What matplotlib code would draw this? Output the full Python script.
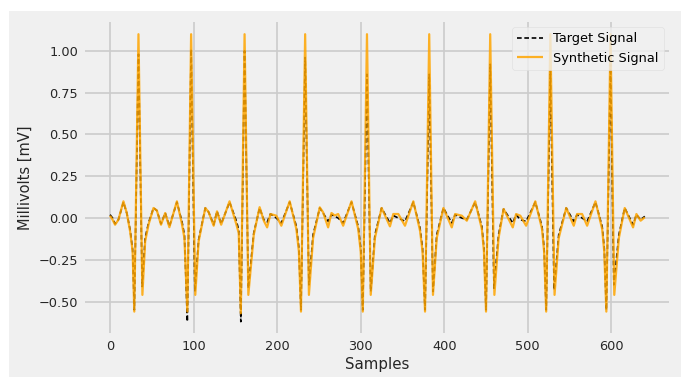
import matplotlib
matplotlib.use("Agg")
from matplotlib import pyplot as plt
from matplotlib.patches import Rectangle

# key points (sample index, millivolts)
target_x = [0, 3, 6, 10, 16, 20, 24, 27, 29, 34, 38.5, 42, 46, 52, 56, 61, 66, 71, 80, 86, 89,
            92.5, 97, 101.5, 106, 114, 118, 124, 128, 133, 143, 151, 154,
            156.5, 161, 165.5, 172, 179, 184, 188, 192, 196, 199, 205, 215, 223, 226,
            228.5, 233.5, 238, 243, 251, 255, 261, 265, 273, 279, 289, 297, 300,
            302.5, 307.5, 312, 317, 325, 335, 339, 345, 353, 363, 371, 374,
            377, 382, 386.5, 391, 399, 409, 413, 421, 427, 437, 445, 447.5,
            450, 455, 459.5, 465, 471, 482, 486, 491, 498, 509, 517, 519.5,
            522, 527, 531.5, 537, 546, 555, 559, 565, 571, 581, 589, 591.5,
            594, 599, 603, 609, 616, 626, 630, 635, 640]
target_y = [0.02, 0.0, -0.035, -0.01, 0.095, 0.03, -0.07, -0.19, -0.55, 0.98, -0.41, -0.12, -0.03, 0.06, 0.045, -0.035, 0.03, -0.05, 0.095, -0.02, -0.10,
            -0.62, 1.01, -0.44, -0.13, 0.06, 0.035, -0.04, 0.04, -0.035, 0.095, -0.015, -0.07,
            -0.62, 1.00, -0.42, -0.09, 0.06, -0.01, -0.025, 0.025, 0.01, 0.0, -0.03, 0.095, -0.05, -0.18,
            -0.55, 0.96, -0.40, -0.10, 0.06, 0.03, -0.02, 0.02, 0.0, -0.03, 0.095, -0.05, -0.18,
            -0.55, 0.86, -0.44, -0.10, 0.06, -0.03, 0.015, 0.0, -0.02, 0.095, -0.06, -0.18,
            -0.55, 0.86, -0.44, -0.10, 0.06, -0.03, 0.02, 0.0, -0.01, 0.095, -0.05, -0.18,
            -0.55, 0.92, -0.42, -0.10, 0.054, -0.03, 0.02, -0.01, -0.02, 0.095, -0.05, -0.18,
            -0.55, 0.88, -0.43, -0.10, 0.06, -0.02, 0.02, 0.0, -0.02, 0.095, -0.05, -0.18,
            -0.55, 0.92, -0.40, -0.10, 0.06, -0.04, 0.02, -0.01, 0.01]

synth_x = [0, 3, 6, 10, 16, 20, 24, 27, 29, 34, 38.7, 42, 46, 52, 56, 61, 66, 71, 80, 86, 89,
           92.5, 97, 102, 106, 114, 118, 124, 128, 133, 143, 151, 154,
           156.5, 161, 165.5, 172, 179, 184, 188, 192, 199, 205, 215, 223, 226,
           228.5, 233.5, 238, 243, 251, 255, 261, 265, 269, 273, 279, 289, 297, 300,
           302.5, 307.5, 312, 317, 325, 335, 339, 345, 353, 363, 371, 374,
           377, 382, 386.5, 391, 399, 409, 413, 421, 427, 437, 445, 447.5,
           450, 455, 460, 465, 471, 482, 486, 491, 498, 509, 517, 519.5,
           522, 527, 532, 537, 546, 555, 559, 565, 571, 581, 589, 591.5,
           594, 599, 603.5, 609, 616, 626, 630, 635, 640]
synth_y = [0.014, -0.01, -0.04, -0.01, 0.10, 0.03, -0.08, -0.20, -0.56, 1.10, -0.46, -0.14, -0.04, 0.06, 0.045, -0.04, 0.03, -0.055, 0.10, -0.035, -0.12,
           -0.56, 1.10, -0.46, -0.14, 0.06, 0.035, -0.046, 0.04, -0.04, 0.10, -0.035, -0.09,
           -0.57, 1.10, -0.46, -0.10, 0.065, -0.016, -0.056, 0.024, 0.014, -0.046, 0.10, -0.066, -0.20,
           -0.56, 1.10, -0.46, -0.12, 0.064, 0.034, -0.056, 0.03, 0.015, 0.024, -0.046, 0.10, -0.066, -0.20,
           -0.56, 1.10, -0.46, -0.12, 0.06, -0.05, 0.024, 0.024, -0.046, 0.10, -0.076, -0.20,
           -0.56, 1.10, -0.46, -0.12, 0.06, -0.056, 0.024, 0.014, -0.016, 0.10, -0.066, -0.20,
           -0.56, 1.10, -0.46, -0.12, 0.054, -0.056, 0.024, 0.014, -0.046, 0.10, -0.066, -0.20,
           -0.56, 1.10, -0.46, -0.12, 0.06, -0.046, 0.024, 0.024, -0.046, 0.10, -0.066, -0.20,
           -0.56, 1.10, -0.46, -0.12, 0.06, -0.056, 0.024, -0.016, 0.004]

x_ticks = [0, 100, 200, 300, 400, 500, 600]
y_ticks = [-0.50, -0.25, 0.00, 0.25, 0.50, 0.75, 1.00]

plt.style.use('fivethirtyeight')
plt.rcParams['font.family'] = ['DejaVu Sans']

fig = plt.figure(figsize=(6.81, 3.77), dpi=100, facecolor='white')
# grey figure face, offset by a thin white border at the top and left
fig.patches.append(Rectangle((9/681, 0), 1, 1 - 11/377, transform=fig.transFigure,
                             facecolor='#f0f0f0', edgecolor='none', zorder=-10))
ax = fig.add_axes([85/681, 1 - 333/377, 584/681, 311/377])
ax.set_zorder(1)
ax.set_facecolor('#f0f0f0')
ax.set_axisbelow(True)

ax.plot(target_x, target_y, color='black', linestyle=(0, (2.8, 1.6)), linewidth=1.2,
        label='Target Signal')
ax.plot(synth_x, synth_y, color='orange', linewidth=1.6, alpha=0.85, label='Synthetic Signal')

ax.set_xlim(-30, 669)
ax.set_ylim(-0.688, 1.173)
ax.set_xticks(x_ticks)
ax.set_yticks(y_ticks)
ax.tick_params(labelsize=9.3, length=0, pad=5, colors='#262626')
ax.grid(True, color='#cbcbcb', linewidth=1.2)
for s in ax.spines.values():
    s.set_visible(False)

ax.set_xlabel('Samples', fontsize=10.8, color='#262626', labelpad=3)
ax.set_ylabel('Millivolts [mV]', fontsize=10.5, color='#262626', labelpad=4)

leg = ax.legend(loc='upper right', fontsize=9.3, frameon=True, handlelength=2.0,
                borderaxespad=0.4)
leg.get_frame().set_facecolor('#f0f0f0')
leg.get_frame().set_edgecolor('#dddddd')

fig.savefig('out.png', dpi=100, facecolor=fig.get_facecolor())
